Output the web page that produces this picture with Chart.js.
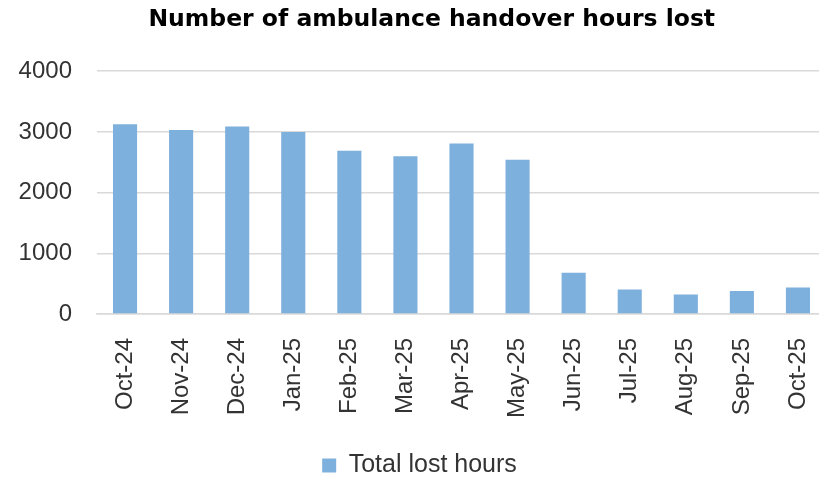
<!DOCTYPE html>
<html lang="en">
<head>
    <meta charset="UTF-8">
    <script src="https://cdn.jsdelivr.net/npm/chart.js"></script>
    <title>Ambulance handover hours lost</title>
    <style>
        html, body { margin: 0; padding: 0; background: #fff; overflow: hidden; }
        #wrap { width: 851px; height: 479px; }
    </style>
</head>
<body>
    <div id="wrap"><canvas id="myChart"></canvas></div>
    <script>
        var months = ['Oct-24', 'Nov-24', 'Dec-24', 'Jan-25', 'Feb-25', 'Mar-25', 'Apr-25',
                      'May-25', 'Jun-25', 'Jul-25', 'Aug-25', 'Sep-25', 'Oct-25'];
        var lostHours = [3125, 3030, 3090, 3000, 2690, 2600, 2810, 2540, 680, 405, 320, 380, 435];
        var yTicks = [0, 1000, 2000, 3000, 4000];

        var font = 'Liberation Sans, Arial, sans-serif';
        var ctx = document.getElementById('myChart').getContext('2d');
        var chart = new Chart(ctx, {
            type: 'bar',
            data: {
                labels: months,
                datasets: [{
                    label: 'Total lost hours',
                    data: lostHours,
                    backgroundColor: '#7eb0dd',
                    barPercentage: 0.43,
                    categoryPercentage: 1
                }]
            },
            options: {
                responsive: true,
                maintainAspectRatio: false,
                animation: false,
                layout: { padding: { left: 13, right: 25, top: 0, bottom: -9 } },
                plugins: {
                    title: {
                        display: true,
                        // leading spaces nudge the title right, like the original
                        text: '   Number of ambulance handover hours lost',
                        color: '#000',
                        font: { family: 'DejaVu Sans, sans-serif', size: 23.5, weight: 'bold' },
                        padding: { top: 6, bottom: 37 }
                    },
                    legend: {
                        position: 'bottom',
                        labels: {
                            color: '#333',
                            font: { family: font, size: 25 },
                            boxWidth: 14,
                            boxHeight: 14,
                            padding: 19
                        }
                    },
                    tooltip: { enabled: false }
                },
                scales: {
                    x: {
                        grid: { display: false },
                        border: { color: '#d9d9d9', width: 1.5 },
                        ticks: {
                            color: '#333',
                            font: { family: font, size: 24 },
                            minRotation: 90,
                            maxRotation: 90,
                            padding: 16
                        }
                    },
                    y: {
                        min: yTicks[0],
                        max: yTicks[yTicks.length - 1],
                        afterBuildTicks: function (axis) {
                            axis.ticks = yTicks.map(function (v) { return { value: v }; });
                        },
                        afterFit: function (axis) { axis.width = 84; },
                        grid: { color: '#d9d9d9', lineWidth: 1.5, drawTicks: false },
                        border: { display: false },
                        ticks: {
                            color: '#333',
                            font: { family: font, size: 24 },
                            padding: 25,
                            callback: function (v) { return String(v); }
                        }
                    }
                }
            }
        });
    </script>
</body>
</html>
